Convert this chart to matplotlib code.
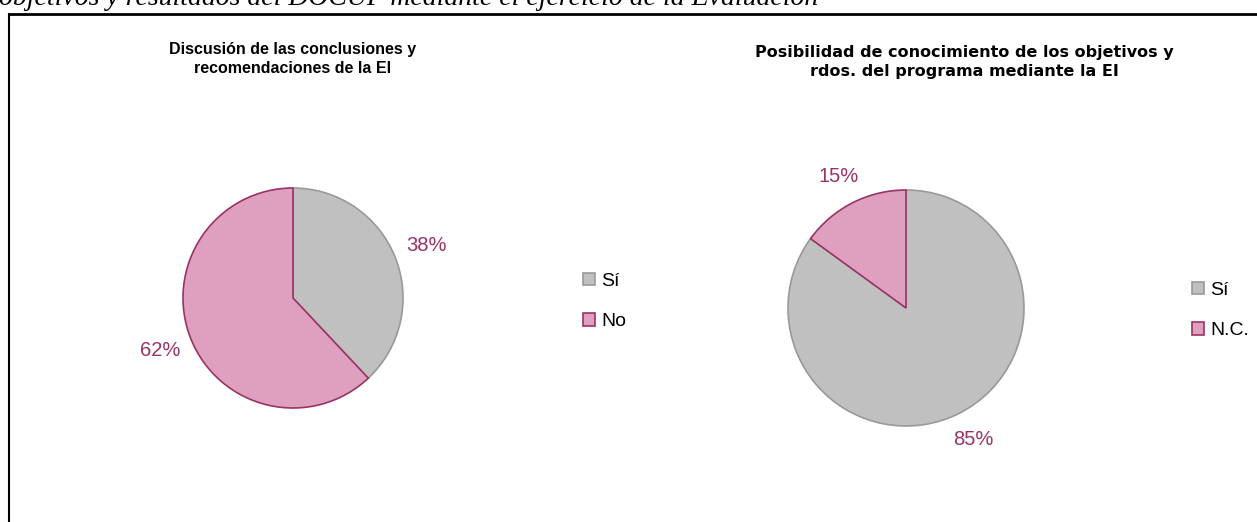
import matplotlib
matplotlib.use('Agg')
import matplotlib.pyplot as plt
from matplotlib.patches import Patch

# data
title_1 = 'Discusión de las conclusiones y\nrecomendaciones de la EI'
labels_1 = ['Sí', 'No']
values_1 = [38, 62]

title_2 = 'Posibilidad de conocimiento de los objetivos y\nrdos. del programa mediante la EI'
labels_2 = ['Sí', 'N.C.']
values_2 = [85, 15]

header = 'objetivos y resultados del DOCUP mediante el ejercicio de la Evaluación'

GRAY = '#C0C0C0'
PINK = '#DFA0C0'
GRAY_EDGE = '#999999'
PINK_EDGE = '#993366'
LABEL_COLOR = '#993366'

W, H = 1257, 522
plt.rcParams['font.family'] = ['Liberation Sans', 'DejaVu Sans']

fig = plt.figure(figsize=(W / 100, H / 100), dpi=100)


def px_axes(cx, cy, r):
    # axes square around a pie centre given in pixels (from the top)
    return fig.add_axes([(cx - r) / W, (H - cy - r) / H, 2 * r / W, 2 * r / H])


def draw_pie(ax, values, pctdist):
    wedges, _, autotexts = ax.pie(
        values, colors=[GRAY, PINK], startangle=90, counterclock=False,
        autopct='%1.0f%%', pctdistance=pctdist,
        wedgeprops=dict(linewidth=1.2))
    wedges[0].set_edgecolor(GRAY_EDGE)
    wedges[1].set_edgecolor(PINK_EDGE)
    wedges[1].set_zorder(3)
    for t in autotexts:
        t.set_color(LABEL_COLOR)
        t.set_fontsize(14.5)
    ax.set_xlim(-1, 1)
    ax.set_ylim(-1, 1)
    ax.set_aspect('equal')
    ax.axis('off')


ax1 = px_axes(293, 298, 110)
draw_pie(ax1, values_1, 1.3)

ax2 = px_axes(906, 308, 118)
draw_pie(ax2, values_2, 1.25)

# titles (the original is letter-spaced, a wider face gets close)
fig.text(293 / W, 1 - 59 / H, title_1, ha='center', va='center',
         fontsize=11.5, fontweight='bold', linespacing=1.4)
fig.text(964 / W, 1 - 62 / H, title_2, ha='center', va='center',
         fontsize=11.5, fontweight='bold', linespacing=1.4,
         family=['DejaVu Sans'])


def legend(labels, x, y):
    handles = [Patch(facecolor=GRAY, edgecolor=GRAY_EDGE, linewidth=1.2),
               Patch(facecolor=PINK, edgecolor=PINK_EDGE, linewidth=1.2)]
    fig.legend(handles, labels, loc='upper left', bbox_to_anchor=(x / W, 1 - y / H),
               frameon=False, fontsize=14, handlelength=0.6, handleheight=0.6,
               handletextpad=0.35, labelspacing=1.2, borderpad=0, borderaxespad=0)


legend(labels_1, 583, 273)
legend(labels_2, 1192, 282)

# frame of the document box and cut-off caption above
fig.add_artist(plt.Line2D([8 / W, 1], [1 - 14 / H, 1 - 14 / H], color='black',
                          linewidth=2, solid_capstyle='butt'))
fig.add_artist(plt.Line2D([8.5 / W, 8.5 / W], [0, 1 - 13 / H], color='black',
                          linewidth=1.5, solid_capstyle='butt'))
fig.text(-1 / W, 1 - 5 / H, header, ha='left', va='baseline', fontsize=20,
         style='italic', family='Liberation Serif')

fig.savefig('out.png', dpi=100)
